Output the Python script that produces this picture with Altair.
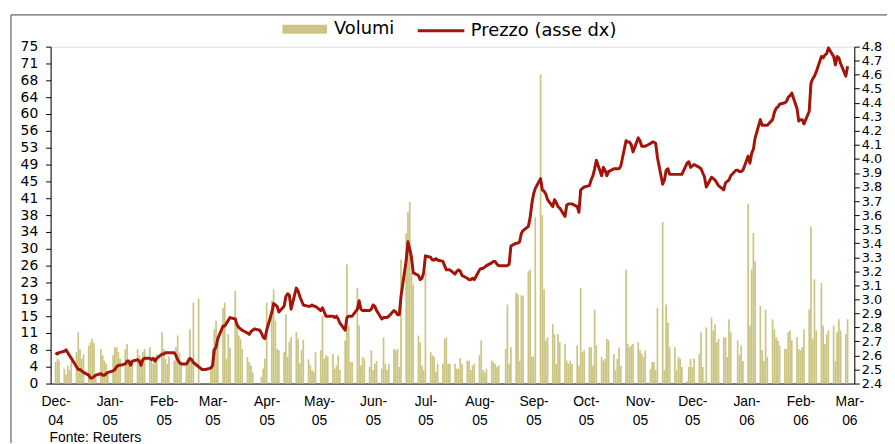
import altair as alt
import pandas as pd

# ---- data (daily, trading days per month) ----
month_starts = ["2004-12-01", "2005-01-01", "2005-02-01", "2005-03-01", "2005-04-01",
                "2005-05-01", "2005-06-01", "2005-07-01", "2005-08-01", "2005-09-01",
                "2005-10-01", "2005-11-01", "2005-12-01", "2006-01-01", "2006-02-01"]

vol_2004_12 = [4.8, 5.5, 5.1, 3.3, 2.0, 4.0, 3.0, 5.0, 7.0, 11.4, 7.7, 5.5, 6.5, 8.5, 9.2, 9.9, 9.0, 2.0, 7.7, 6.3, 5.1, 4.4, 2.0]
vol_2005_01 = [6.3, 8.1, 8.1, 7.0, 5.5, 7.7, 8.8, 5.0, 3.7, 4.8, 7.7, 6.3, 5.5, 7.0, 7.7, 8.1, 6.0, 4.4, 5.0, 6.5, 11.4]
vol_2005_02 = [7.7, 5.5, 4.4, 6.0, 5.1, 8.1, 10.7, 6.8, 4.5, 4.4, 5.5, 12.1, 5.5, 18.0, 18.9, 0, 0, 0, 0, 3.0]
vol_2005_03 = [7.7, 12.1, 14.0, 9.0, 16.9, 18.0, 5.5, 11.0, 8.0, 20.6, 12.9, 10.7, 9.9, 7.7, 5.9, 4.8, 4.0, 2.5, 0, 0, 1.5, 3.3, 5.5]
vol_2005_04 = [18.0, 18.5, 21.0, 14.0, 7.7, 7.4, 7.0, 15.4, 6.0, 9.3, 10.4, 11.5, 10.0, 4.5, 7.4, 9.7, 5.4, 4.2, 3.0, 2.6, 7.0]
vol_2005_05 = [7.4, 15.1, 5.5, 6.3, 6.0, 6.6, 3.3, 4.0, 6.3, 3.0, 9.6, 26.5, 12.9, 4.8, 4.8, 21.3, 12.9, 4.0, 5.9, 5.5, 3.7, 7.4]
vol_2005_06 = [3.0, 4.4, 5.0, 3.3, 10.3, 4.4, 3.0, 4.4, 7.7, 7.4, 7.7, 3.7, 27.6, 33.5, 38.2, 40.4, 24.6, 22.0, 10.7, 9.2, 4.0, 3.0]
vol_2005_07 = [24.6, 7.0, 6.3, 5.9, 2.6, 4.4, 4.4, 9.9, 10.3, 4.4, 4.4, 4.4, 3.3, 3.3, 5.7, 4.4, 5.1, 5.1, 3.0, 4.0, 4.4]
vol_2005_08 = [6.3, 9.6, 3.0, 2.5, 3.3, 5.1, 4.8, 4.4, 3.7, 4.0, 0, 7.7, 17.6, 4.4, 8.1, 20.2, 19.9, 5.0, 19.6, 19.6, 25.0, 25.4, 6.0]
vol_2005_09 = [6.0, 37.0, 68.8, 37.5, 21.0, 9.6, 10.3, 13.2, 11.0, 4.4, 11.0, 9.2, 8.8, 5.1, 4.4, 5.1, 4.4, 8.5, 4.0, 21.3, 7.0, 7.4]
vol_2005_10 = [8.1, 8.1, 4.0, 16.5, 8.5, 5.9, 5.1, 5.5, 9.9, 9.6, 6.6, 3.0, 5.5, 8.1, 4.0, 25.4, 8.8, 8.1, 8.5, 8.8, 9.2]
vol_2005_11 = [7.4, 6.6, 5.9, 7.4, 3.3, 4.8, 4.8, 3.0, 16.9, 36.0, 3.0, 17.6, 13.6, 8.1, 8.1, 3.0, 5.9, 5.5, 3.7, 0.5, 3.7, 5.5]
vol_2005_12 = [3.7, 5.5, 6.6, 11.4, 3.7, 0.5, 12.5, 14.7, 11.8, 13.2, 9.2, 9.9, 10.3, 10.3, 5.9, 14.3, 11.4, 0, 9.6, 6.3, 8.5, 5.0]
vol_2006_01 = [40.0, 12.9, 25.4, 33.5, 27.2, 17.3, 7.4, 5.0, 16.5, 5.9, 14.3, 12.1, 10.3, 9.6, 8.5, 7.7, 7.7, 11.4, 11.8, 9.6, 10.3, 7.7]
vol_2006_02 = [7.4, 8.1, 12.1, 16.5, 34.9, 10.0, 23.2, 11.8, 22.4, 12.9, 8.8, 11.0, 11.8, 12.9, 5.0, 11.4, 14.3, 11.8, 11.0, 14.3]

price_2004_12 = [2.62, 2.61, 2.62, 2.63, 2.64, 2.62, 2.60, 2.58, 2.52, 2.50, 2.50, 2.49, 2.48, 2.46, 2.44, 2.44, 2.45, 2.46, 2.47, 2.46, 2.46, 2.47, 2.48]
price_2005_01 = [2.49, 2.50, 2.52, 2.53, 2.53, 2.54, 2.56, 2.56, 2.53, 2.56, 2.57, 2.56, 2.53, 2.57, 2.58, 2.58, 2.57, 2.58, 2.56, 2.58, 2.61]
price_2005_02 = [2.61, 2.62, 2.62, 2.62, 2.62, 2.60, 2.57, 2.55, 2.54, 2.54, 2.56, 2.58, 2.57, 2.55, 2.52, 2.51, 2.50, 2.50, 2.50, 2.51]
price_2005_03 = [2.53, 2.64, 2.66, 2.72, 2.81, 2.81, 2.83, 2.85, 2.87, 2.86, 2.82, 2.80, 2.79, 2.78, 2.76, 2.75, 2.77, 2.78, 2.79, 2.78, 2.76, 2.73, 2.72]
price_2005_04 = [2.78, 2.91, 2.97, 2.96, 2.95, 2.91, 2.95, 3.02, 3.04, 3.03, 2.93, 3.08, 3.06, 3.02, 2.99, 2.96, 2.95, 2.95, 2.96, 2.95, 2.95]
price_2005_05 = [2.92, 2.94, 2.91, 2.88, 2.88, 2.88, 2.87, 2.88, 2.86, 2.83, 2.78, 2.87, 2.88, 2.88, 2.88, 2.93, 2.99, 2.93, 2.92, 2.92, 2.92, 2.93]
price_2005_06 = [2.96, 2.95, 2.92, 2.86, 2.87, 2.87, 2.87, 2.88, 2.92, 2.91, 2.89, 2.89, 3.02, 3.28, 3.41, 3.36, 3.30, 3.19, 3.17, 3.14, 3.15, 3.19]
price_2005_07 = [3.31, 3.30, 3.28, 3.28, 3.29, 3.28, 3.27, 3.24, 3.21, 3.21, 3.21, 3.18, 3.20, 3.21, 3.20, 3.17, 3.15, 3.14, 3.14, 3.15, 3.14]
price_2005_08 = [3.21, 3.22, 3.22, 3.23, 3.24, 3.26, 3.27, 3.27, 3.25, 3.24, 3.24, 3.24, 3.24, 3.25, 3.38, 3.40, 3.40, 3.41, 3.47, 3.49, 3.52, 3.58, 3.68]
price_2005_09 = [3.75, 3.79, 3.86, 3.78, 3.77, 3.75, 3.71, 3.66, 3.71, 3.69, 3.66, 3.65, 3.59, 3.67, 3.68, 3.68, 3.68, 3.66, 3.62, 3.78, 3.79, 3.80]
price_2005_10 = [3.81, 3.85, 3.88, 3.93, 3.99, 3.88, 3.94, 3.92, 3.88, 3.91, 3.93, 3.93, 3.93, 3.93, 3.95, 4.13, 4.12, 4.12, 4.10, 4.05, 4.15]
price_2005_11 = [4.13, 4.09, 4.09, 4.09, 4.11, 4.12, 4.12, 4.11, 4.01, 3.82, 3.85, 3.92, 3.93, 3.89, 3.89, 3.89, 3.89, 3.89, 3.89, 3.97, 3.98, 3.94]
price_2005_12 = [3.95, 3.96, 3.94, 3.93, 3.90, 3.87, 3.80, 3.87, 3.86, 3.85, 3.83, 3.81, 3.78, 3.83, 3.84, 3.85, 3.88, 3.92, 3.92, 3.91, 3.91, 3.92]
price_2006_01 = [4.02, 3.97, 4.04, 4.07, 4.15, 4.28, 4.24, 4.24, 4.24, 4.24, 4.28, 4.33, 4.36, 4.37, 4.39, 4.40, 4.41, 4.44, 4.45, 4.47, 4.36, 4.27]
price_2006_02 = [4.28, 4.28, 4.25, 4.34, 4.54, 4.57, 4.59, 4.62, 4.73, 4.72, 4.74, 4.75, 4.79, 4.73, 4.67, 4.73, 4.72, 4.68, 4.59, 4.66]

tick_months = ["2004-12-01", "2005-01-01", "2005-02-01", "2005-03-01", "2005-04-01",
               "2005-05-01", "2005-06-01", "2005-07-01", "2005-08-01", "2005-09-01",
               "2005-10-01", "2005-11-01", "2005-12-01", "2006-01-01", "2006-02-01",
               "2006-03-01"]
vol_ticks = [0, 3.75, 7.5, 11.25, 15, 18.75, 22.5, 26.25, 30, 33.75, 37.5, 41.25, 45,
             48.75, 52.5, 56.25, 60, 63.75, 67.5, 71.25, 75]
price_ticks = [2.4, 2.5, 2.6, 2.7, 2.8, 2.9, 3.0, 3.1, 3.2, 3.3, 3.4, 3.5, 3.6, 3.7,
               3.8, 3.9, 4.0, 4.1, 4.2, 4.3, 4.4, 4.5, 4.6, 4.7, 4.8]

vol_months = [vol_2004_12, vol_2005_01, vol_2005_02, vol_2005_03, vol_2005_04, vol_2005_05,
              vol_2005_06, vol_2005_07, vol_2005_08, vol_2005_09, vol_2005_10, vol_2005_11,
              vol_2005_12, vol_2006_01, vol_2006_02]
price_months = [price_2004_12, price_2005_01, price_2005_02, price_2005_03, price_2005_04,
                price_2005_05, price_2005_06, price_2005_07, price_2005_08, price_2005_09,
                price_2005_10, price_2005_11, price_2005_12, price_2006_01, price_2006_02]

rows = []
for start, vols, prices in zip(month_starts, vol_months, price_months):
    s = pd.Timestamp(start)
    days = pd.bdate_range(s, s + pd.offsets.MonthEnd(0))
    for d, v, p in zip(days, vols, prices):
        rows.append({"date": d.strftime("%Y-%m-%d"), "volume": v, "price": p,
                     "sv": "Volumi", "sp": "Prezzo (asse dx)"})
df = pd.DataFrame(rows)


def dt(s):
    t = pd.Timestamp(s)
    return alt.DateTime(year=t.year, month=t.month, date=t.day, utc=True)


BAR = "#CBC482"
RED = "#A3150A"

x_enc = alt.X(
    "date:T",
    title=None,
    scale=alt.Scale(type="utc", domain=[dt("2004-12-01"), dt("2006-03-01")]),
    axis=alt.Axis(values=[dt(m) for m in tick_months],
                  labelExpr="[utcFormat(datum.value, '%b') + '-', utcFormat(datum.value, '%y')]",
                  ticks=False, labelPadding=11, labelFont="Liberation Sans", labelFontSize=14,
                  labelLineHeight=19, labelFlush=False, labelOverlap=False,
                  labelColor="black", domainColor="black", grid=False),
)

bars = alt.Chart(df).mark_bar(width=1.7).encode(
    x=x_enc,
    y=alt.Y("volume:Q", title=None,
            scale=alt.Scale(domain=[0, 75], nice=False, zero=True),
            axis=alt.Axis(orient="left", values=vol_ticks,
                          labelExpr="'' + floor(datum.value + 0.5)",
                          tickSize=5, labelPadding=8, labelFont="DejaVu Sans",
                          labelFontSize=14, labelOverlap=False, labelColor="black",
                          domainColor="black", tickColor="black", grid=False)),
    fill=alt.Fill("sv:N", scale=alt.Scale(domain=["Volumi"], range=[BAR]),
                  legend=alt.Legend(title=None, orient="none", legendX=234, legendY=-40,
                                    symbolType="M-1,-0.2H1V0.2H-1Z", symbolSize=2025,
                                    symbolStrokeWidth=0, labelOffset=7,
                                    labelFont="DejaVu Sans", labelFontSize=18,
                                    labelColor="black", labelLimit=300)),
)

line = alt.Chart(df).mark_line(strokeWidth=3, strokeJoin="round").encode(
    x=x_enc,
    y=alt.Y("price:Q", title=None,
            scale=alt.Scale(domain=[2.4, 4.8], nice=False, zero=False),
            axis=alt.Axis(orient="right", values=price_ticks, format=".1f",
                          tickSize=5, labelPadding=2, labelFont="DejaVu Sans",
                          labelFontSize=13, labelOverlap=False, labelColor="black",
                          domainColor="black", tickColor="black", grid=False)),
    stroke=alt.Stroke("sp:N", scale=alt.Scale(domain=["Prezzo (asse dx)"], range=[RED]),
                      legend=alt.Legend(title=None, orient="none", legendX=369, legendY=-41,
                                        symbolType="stroke", symbolSize=2209,
                                        symbolStrokeWidth=3, labelOffset=5,
                                        labelFont="DejaVu Sans", labelFontSize=18,
                                        labelColor="black", labelLimit=300)),
)

frame_df = pd.DataFrame({"k": [0]})
frame_v = alt.Chart(frame_df).mark_rule(color="#404040", strokeWidth=1).encode(
    x=alt.value(-40), y=alt.value(-32), y2=alt.value(400))
frame_h = alt.Chart(frame_df).mark_rule(color="#404040", strokeWidth=1).encode(
    x=alt.value(-40), x2=alt.value(900), y=alt.value(-32))

chart = alt.layer(frame_v, frame_h, bars, line).resolve_scale(
    y="independent", fill="independent", stroke="independent"
).properties(
    width=811, height=340,
    autosize=alt.AutoSizeParams(type="none"),
    padding={"left": 43, "top": 37, "right": 33, "bottom": 59},
    title=alt.TitleParams("Fonte: Reuters", orient="bottom", anchor="start", frame="group",
                          font="Liberation Sans", fontSize=14, fontWeight="normal",
                          color="black", baseline="top", offset=0, dy=-13, dx=-1),
).configure_view(stroke=None).configure(background="white")

chart.save("out.html", embed_options={"renderer": "svg", "actions": False})
